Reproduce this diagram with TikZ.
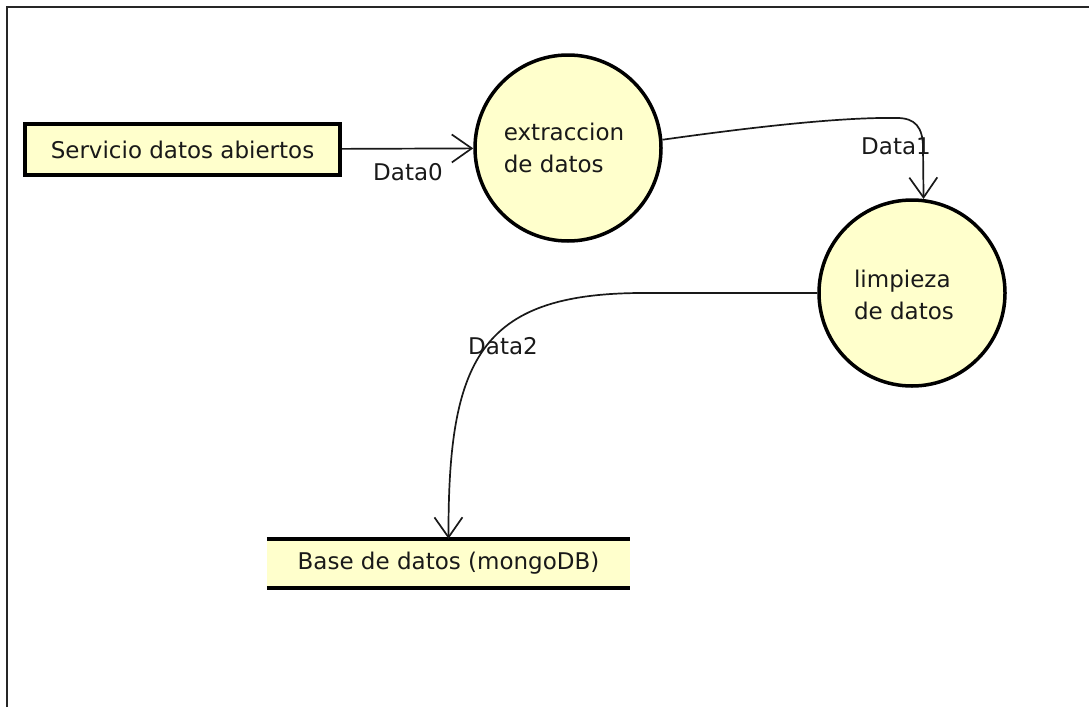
\documentclass[tikz,border=0pt]{standalone}
\usepackage{fontspec}
\setmainfont{DejaVu Sans}
\usetikzlibrary{arrows.meta}
\definecolor{procfill}{RGB}{255,255,204}
\definecolor{ink}{RGB}{25,25,25}

\begin{document}
\begin{tikzpicture}[x=1pt,y=-1pt,
  every node/.style={font=\fontsize{23}{32}\selectfont, text=ink},
  proc/.style={circle, draw=black, line width=3.5pt, fill=procfill, minimum size=186pt, inner sep=0pt},
  ptext/.style={align=left, inner sep=0pt},
  extent/.style={rectangle, draw=black, line width=3.5pt, fill=procfill, minimum width=315pt, minimum height=51pt, inner sep=0pt},
  store/.style={rectangle, fill=procfill, minimum width=363pt, minimum height=49pt, inner sep=0pt},
  storeline/.style={draw=black, line width=3.5pt},
  flow/.style={draw=ink, line width=1.7pt, -{Straight Barb[length=20pt,width=28pt,line width=1.7pt]}},
  flowlabel/.style={inner sep=0pt},
]
\useasboundingbox (0,0) rectangle (1089,707);

% page frame
\draw[line width=2.2pt, black!85] (7,707) -- (7,7) -- (1089,7);

% external entity
\node[extent] (src) at (182.5,149.5) {Servicio datos abiertos};

% processes
\node[proc] (p1) at (568,148) {};
\node[ptext] (p1t) at (564,148) {extraccion\\de datos};
\node[proc] (p2) at (912,293) {};
\node[ptext] (p2t) at (904,295) {limpieza\\de datos};

% data store
\node[store] (db) at (448.5,563.5) {Base de datos (mongoDB)};
\draw[storeline] (db.north west) -- (db.north east);
\draw[storeline] (db.south west) -- (db.south east);

% flow labels
\node[flowlabel] (l0) at (408,172) {Data0};
\node[flowlabel] (l1) at (896,146) {Data1};
\node[flowlabel] (l2) at (503,346) {Data2};

% data flows
\draw[flow] (src) -- (p1);
\draw[flow] (p1.5) .. controls (760,126) and (845,117) .. (897,118)
  .. controls (915,118) and (923,127) .. (923,148) -- (p2.83);
\draw[flow] (p2.west) -- (640,293) .. controls (480,294) and (448,360) .. (db.north);
\end{tikzpicture}
\end{document}
